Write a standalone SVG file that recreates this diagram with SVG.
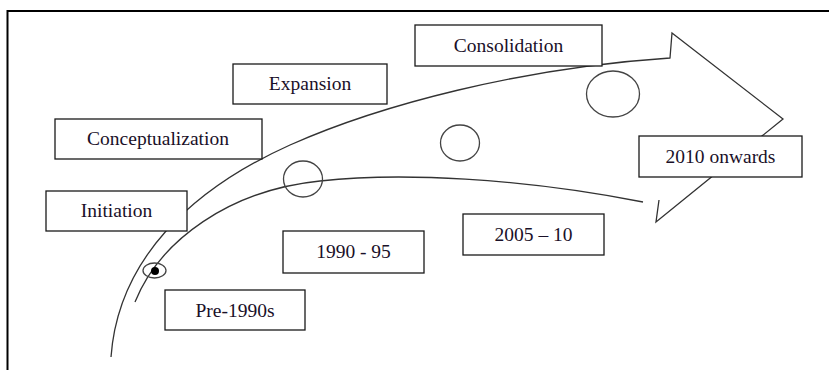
<svg xmlns="http://www.w3.org/2000/svg" width="829" height="370" viewBox="0 0 829 370">
<style>
.frame{fill:none;stroke:#000;stroke-width:2}
.box rect{fill:#fff;stroke:#1a1a1a;stroke-width:1.3}
.box text{font-family:"Liberation Serif","Times New Roman",serif;font-size:19.5px;fill:#1a1028;text-anchor:middle}
.arrow{fill:none;stroke:#333;stroke-width:1.3}
.mark{fill:none;stroke:#444;stroke-width:1.3}
</style>
<rect width="829" height="370" fill="#fff"/>
<path class="frame" d="M7.5,370 V11 H829"/>
<g id="connectors">
<path class="arrow" d="M111,357 C118,260 190,190 290,145 C380,105 520,68 670,58 L672,33 L783,119 L656,222 L659,200"/>
<path class="arrow" d="M135,302 C160,240 230,190 320,181 C400,172 520,178 643,202"/>
</g>
<g id="markers">
<ellipse class="mark" cx="154.5" cy="270.5" rx="11.5" ry="7.5"/>
<circle cx="155" cy="271" r="4" fill="#000"/>
<ellipse class="mark" cx="303" cy="179" rx="19.5" ry="18"/>
<ellipse class="mark" cx="460" cy="143" rx="19.5" ry="18"/>
<ellipse class="mark" cx="613" cy="94" rx="26.5" ry="23"/>
</g>
<g id="consolidation" class="box"><rect x="415" y="25" width="187" height="41"/><text x="508.5" y="51.5">Consolidation</text></g>
<g id="expansion" class="box"><rect x="233" y="64" width="154" height="40"/><text x="310" y="90">Expansion</text></g>
<g id="conceptualization" class="box"><rect x="55" y="119" width="207" height="40"/><text x="158" y="145">Conceptualization</text></g>
<g id="initiation" class="box"><rect x="46" y="191" width="141" height="40"/><text x="116.5" y="217">Initiation</text></g>
<g id="p1990-95" class="box"><rect x="283" y="231" width="141" height="42"/><text x="353.5" y="258">1990 - 95</text></g>
<g id="p2005-10" class="box"><rect x="463" y="214" width="141" height="41"/><text x="533.5" y="241">2005 – 10</text></g>
<g id="pre1990s" class="box"><rect x="165" y="290" width="140" height="40"/><text x="235" y="316.5">Pre-1990s</text></g>
<g id="onwards2010" class="box"><rect x="639" y="136" width="163" height="41"/><text x="720.5" y="162.5">2010 onwards</text></g>
</svg>
